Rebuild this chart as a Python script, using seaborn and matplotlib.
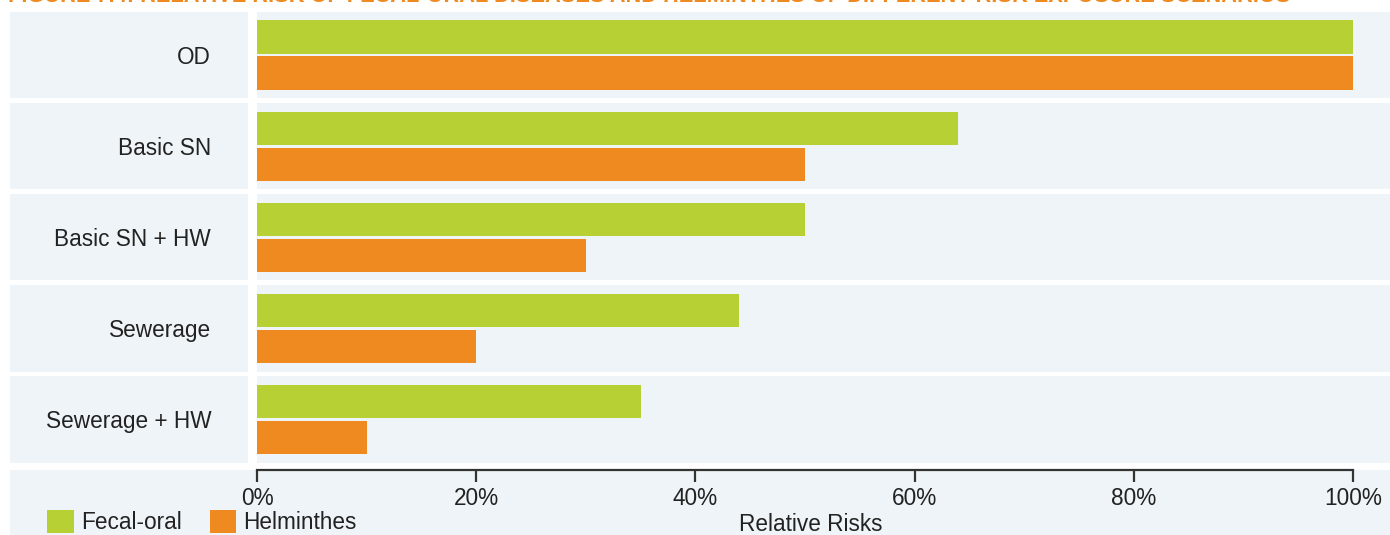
import matplotlib
matplotlib.use("Agg")
import matplotlib.pyplot as plt
import matplotlib.transforms as mtransforms
from matplotlib.patches import Rectangle, Patch
import seaborn as sns
import pandas as pd

# ---- data ----
scenarios = ["OD", "Basic SN", "Basic SN + HW", "Sewerage", "Sewerage + HW"]
series_names = ["Fecal-oral", "Helminthes"]
fecal_oral = [100, 64, 50, 44, 35]
helminthes = [100, 50, 30, 20, 10]
x_ticks = [0, 20, 40, 60, 80, 100]
x_tick_labels = ["0%", "20%", "40%", "60%", "80%", "100%"]
x_label = "Relative Risks"
title = ("FIGURE 7.4: RELATIVE RISK OF FECAL-ORAL DISEASES AND HELMINTHES "
         "OF DIFFERENT RISK EXPOSURE SCENARIOS")

GREEN = "#B7D034"
ORANGE = "#EE8A20"
PANEL = "#EEF4F7"
TEXT = "#222222"

df = pd.DataFrame({
    "scenario": scenarios * 2,
    "series": [series_names[0]] * len(scenarios) + [series_names[1]] * len(scenarios),
    "value": fecal_oral + helminthes,
})

sns.set_theme(style="white")
plt.rcParams["font.family"] = ["Liberation Sans", "DejaVu Sans"]

W, H = 1390, 535
fig = plt.figure(figsize=(W / 100, H / 100), dpi=100, facecolor="white")

def fx(px):
    return px / W

def fy(py):
    return 1 - py / H

ax = fig.add_axes([fx(257), fy(470), fx(1390 - 257), (470 - 12) / H])
ax.set_facecolor("none")
ax.set_zorder(1)

# bottom panel (behind axes)
fig.patches.append(Rectangle((fx(10), 0), fx(1380), fy(470), transform=fig.transFigure,
                             facecolor=PANEL, edgecolor="none", zorder=-5))

sns.barplot(data=df, y="scenario", x="value", hue="series", orient="h",
            palette=[GREEN, ORANGE], width=0.79, gap=0.08, saturation=1,
            linewidth=0, legend=False, ax=ax)

# row panels
blend = mtransforms.blended_transform_factory(fig.transFigure, ax.transData)
for i, _ in enumerate(scenarios):
    ax.axhspan(i - 0.475, i + 0.475, xmin=-0.001, xmax=1, facecolor=PANEL,
               edgecolor="none", zorder=0)
    ax.add_patch(Rectangle((fx(10), i - 0.475), fx(238), 0.95, transform=blend,
                           facecolor=PANEL, edgecolor="none", clip_on=False, zorder=0))

ax.set_xlim(0, 103.38)
ax.set_ylim(4.555, -0.472)

for s in ["left", "top", "right"]:
    ax.spines[s].set_visible(False)
ax.spines["bottom"].set_visible(True)
ax.spines["bottom"].set_bounds(0, 100)
ax.spines["bottom"].set_color("#333333")
ax.spines["bottom"].set_linewidth(1.6)
ax.spines["bottom"].set_zorder(5)

ax.set_xticks(x_ticks)
ax.set_xticklabels(x_tick_labels)
ax.tick_params(axis="x", direction="out", length=8.6, width=1.6, color="#333333",
               pad=3.5, labelsize=16.3, labelcolor=TEXT, bottom=True, labelbottom=True)
ax.tick_params(axis="y", length=0, pad=33, labelsize=16.3, labelcolor=TEXT)
ax.set_ylabel("")
ax.set_xlabel(x_label, fontsize=16.3, color=TEXT)
ax.xaxis.set_label_coords(0.489, -0.094)
ax.grid(False)

handles = [Patch(facecolor=GREEN, edgecolor="none"), Patch(facecolor=ORANGE, edgecolor="none")]
fig.legend(handles, series_names, loc="upper left", bbox_to_anchor=(fx(47), fy(510)),
           bbox_transform=fig.transFigure, ncol=2, frameon=False, fontsize=16.3,
           handlelength=1.19, handleheight=1.19, handletextpad=0.31,
           columnspacing=1.23, borderpad=0, borderaxespad=0, labelcolor=TEXT)

t = fig.text(fx(8), fy(2.5), title, color=ORANGE, fontsize=17.5, fontweight="bold",
             ha="left", va="baseline")
# fit title to the width it spans in the reference
r = fig.canvas.get_renderer()
wpx = t.get_window_extent(r).width
t.set_fontsize(17.5 * (1277 / wpx))

fig.savefig("out.png", dpi=100, facecolor="white")
